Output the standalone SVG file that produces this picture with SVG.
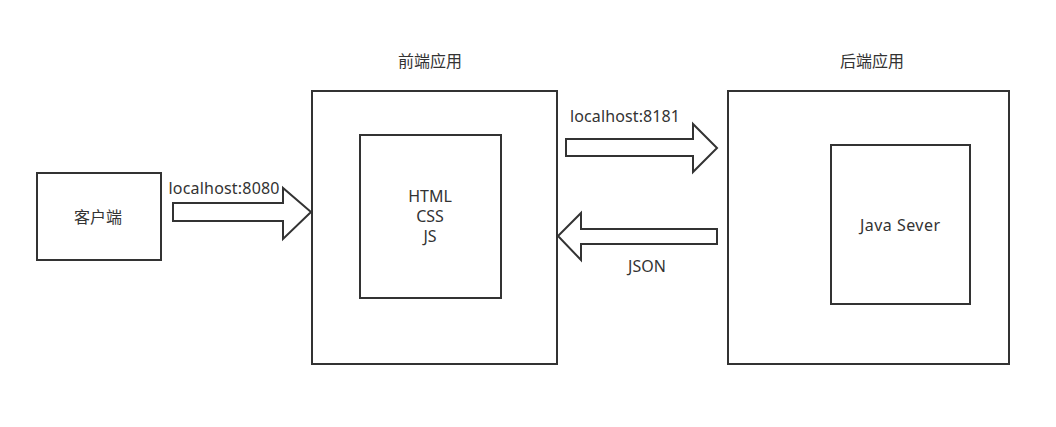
<svg xmlns="http://www.w3.org/2000/svg" width="1056" height="427" viewBox="0 0 1056 427">
<style>
.box{fill:#fff;stroke:#333;stroke-width:2}
.arr{fill:#fff;stroke:#333;stroke-width:2;stroke-linejoin:miter}
text{font-family:"Noto Sans","Noto Sans CJK SC",sans-serif;font-size:16px;fill:#333}
.m{text-anchor:middle;dominant-baseline:central}
</style>
<rect width="1056" height="427" fill="#fff"/>
<g id="client">
<rect class="box" x="37" y="173" width="124" height="87"/>
<text class="m" x="98" y="217">客户端</text>
</g>
<g id="frontend">
<rect class="box" x="312" y="91" width="245" height="273"/>
<text class="m" x="430" y="61">前端应用</text>
</g>
<g id="frontend-inner">
<rect class="box" x="360" y="135" width="141" height="163"/>
<text class="m" x="430" y="196">HTML</text>
<text class="m" x="430" y="216">CSS</text>
<text class="m" x="430" y="236">JS</text>
</g>
<g id="backend">
<rect class="box" x="728" y="91" width="281" height="273"/>
<text class="m" x="872" y="61">后端应用</text>
</g>
<g id="backend-inner">
<rect class="box" x="831" y="145" width="139" height="159"/>
<text class="m" x="900" y="225" textLength="80">Java Sever</text>
</g>
<g id="connectors">
<polygon class="arr" points="173,203 283,203 283,188 311,212 283,239 283,221 173,221"/>
<text class="m" x="224" y="188" textLength="111">localhost:8080</text>
<polygon class="arr" points="566,139 693,139 693,124 717,148 693,172 693,156 566,156"/>
<text class="m" x="625" y="116" textLength="110">localhost:8181</text>
<polygon class="arr" points="717,229 581,229 581,213 558,236 581,260 581,244 717,244"/>
<text class="m" x="647" y="266">JSON</text>
</g>
</svg>
